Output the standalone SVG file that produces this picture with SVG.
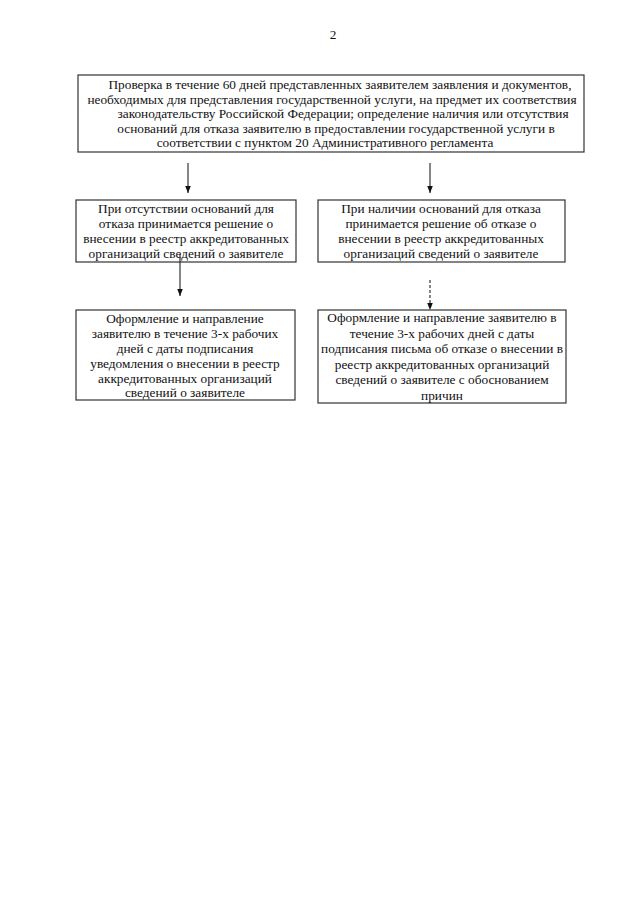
<svg xmlns="http://www.w3.org/2000/svg" width="640" height="905" viewBox="0 0 640 905">
<defs>
<style>
.box{fill:#fff;stroke:#333;stroke-width:1.2}
.t{font-family:"Liberation Serif","Times New Roman",serif;font-size:13.3px;fill:#111;text-anchor:middle}
.ln{stroke:#222;stroke-width:1.1;fill:none}
.dash{stroke-dasharray:3 2}
</style>
<marker id="ah" viewBox="0 0 10 10" refX="10" refY="5" markerWidth="7" markerHeight="7" markerUnits="userSpaceOnUse" orient="auto">
<path d="M0,1 L10,5 L0,9 z" fill="#111"/>
</marker>
</defs>
<rect width="640" height="905" fill="#fff"/>
<text class="t" x="333" y="39">2</text>
<g id="n1">
<rect class="box" x="78" y="75" width="506" height="77"/>
<text class="t" x="340" y="89">Проверка в течение 60 дней представленных заявителем заявления и документов,</text>
<text class="t" x="332" y="103.5">необходимых для представления государственной услуги, на предмет их соответствия</text>
<text class="t" x="343" y="118">законодательству Российской Федерации; определение наличия или отсутствия</text>
<text class="t" x="336" y="132.5">оснований для отказа заявителю в предоставлении государственной услуги в</text>
<text class="t" x="325" y="147">соответствии с пунктом 20 Административного регламента</text>
</g>
<g id="n2">
<rect class="box" x="76" y="200" width="220" height="62"/>
<text class="t" x="186" y="213">При отсутствии оснований для</text>
<text class="t" x="186" y="228">отказа принимается решение о</text>
<text class="t" x="186" y="243">внесении в реестр аккредитованных</text>
<text class="t" x="186" y="258">организаций сведений о заявителе</text>
</g>
<g id="n3">
<rect class="box" x="318" y="200" width="247" height="62"/>
<text class="t" x="441" y="213">При наличии оснований для отказа</text>
<text class="t" x="441" y="228">принимается решение об отказе о</text>
<text class="t" x="441" y="243">внесении в реестр аккредитованных</text>
<text class="t" x="441" y="258">организаций сведений о заявителе</text>
</g>
<g id="n4">
<rect class="box" x="76" y="310" width="219" height="90"/>
<text class="t" x="185" y="323">Оформление и направление</text>
<text class="t" x="185" y="338">заявителю в течение 3-х рабочих</text>
<text class="t" x="185" y="353">дней с даты подписания</text>
<text class="t" x="185" y="368">уведомления о внесении в реестр</text>
<text class="t" x="185" y="382.5">аккредитованных организаций</text>
<text class="t" x="185" y="397">сведений о заявителе</text>
</g>
<g id="n5">
<rect class="box" x="318" y="310" width="248" height="93"/>
<text class="t" x="442" y="322">Оформление и направление заявителю в</text>
<text class="t" x="442" y="337.5">течение 3-х рабочих дней с даты</text>
<text class="t" x="442" y="353">подписания письма об отказе о внесении в</text>
<text class="t" x="442" y="368.5">реестр аккредитованных организаций</text>
<text class="t" x="442" y="384">сведений о заявителе с обоснованием</text>
<text class="t" x="442" y="399.5">причин</text>
</g>
<g id="connectors">
<line class="ln" x1="188" y1="163" x2="188" y2="193" marker-end="url(#ah)"/>
<line class="ln" x1="430" y1="163" x2="430" y2="193" marker-end="url(#ah)"/>
<line class="ln" x1="180" y1="254" x2="180" y2="296" marker-end="url(#ah)"/>
<line class="ln dash" x1="430" y1="280" x2="430" y2="310" marker-end="url(#ah)"/>
</g>
</svg>
